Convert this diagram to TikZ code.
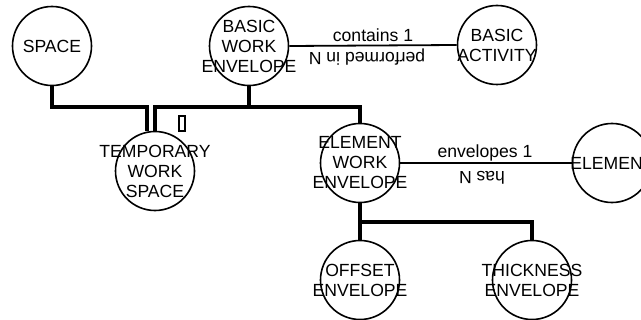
\documentclass[tikz,border=0pt]{standalone}
\usepackage{fontspec}
\setmainfont{Liberation Sans}
\begin{document}
\begin{tikzpicture}[x=0.5pt,y=-0.5pt,
  ent/.style={circle,draw,line width=0.8pt,minimum size=39.5pt,inner sep=0pt},
  txt/.style={font=\fontsize{8.8}{10}\selectfont,align=center,inner sep=0pt},
  lbl/.style={font=\fontsize{8.8}{10}\selectfont,inner sep=0pt},
  bus/.style={line width=2pt},
  rel/.style={line width=0.9pt}]
\useasboundingbox (0,0) rectangle (641,320);
\begin{scope}
\clip (0,0) rectangle (641,320);
% entities
\node[ent] (space) at (52,46) {};
\node[txt] (tspace) at (space) {SPACE};
\node[ent] (bwe) at (249,46) {};
\node[txt] (tbwe) at (bwe) {BASIC\\WORK\\ENVELOPE};
\node[ent] (ba) at (497,45) {};
\node[txt] (tba) at (ba) {BASIC\\ACTIVITY};
\node[ent] (tws) at (155,171) {};
\node[txt] (ttws) at (tws) {TEMPORARY\\WORK\\SPACE};
\node[ent] (ewe) at (360,163) {};
\node[txt] (tewe) at (ewe) {ELEMENT\\WORK\\ENVELOPE};
\node[ent] (el) at (612,163) {};
\node[txt] (tel) at (el) {ELEMENT};
\node[ent] (oe) at (360,280) {};
\node[txt] (toe) at (oe) {OFFSET\\ENVELOPE};
\node[ent] (te) at (532,280) {};
\node[txt] (tte) at (te) {THICKNESS\\ENVELOPE};
% small box
\node[draw,line width=0.6pt,minimum width=3pt,minimum height=7.5pt,inner sep=0pt] (box) at (182,123.5) {};
% bus connectors
\draw[bus] (space.south) |- (147,107) -- (tws.north -| 147,0);
\draw[bus] (tws.north -| 155,0) -- (155,107) -| (ewe.north);
\draw[bus] (bwe.south) -- (bwe.south |- 0,107);
\draw[bus] (ewe.south) -- (oe.north);
\draw[bus] (ewe.south |- 0,222) -| (te.north);
% relationships
\draw[rel] (bwe.east) -- (ba.west);
\node[lbl] (c1) at (373,35) {contains 1};
\node[lbl,rotate=180] (pin) at (367,57) {performed in N};
\draw[rel] (ewe.east) -- (el.west);
\node[lbl] (e1) at (485,153) {envelopes 1};
\node[lbl,rotate=180] (hn) at (482,178) {has N};
\end{scope}
\end{tikzpicture}
\end{document}
